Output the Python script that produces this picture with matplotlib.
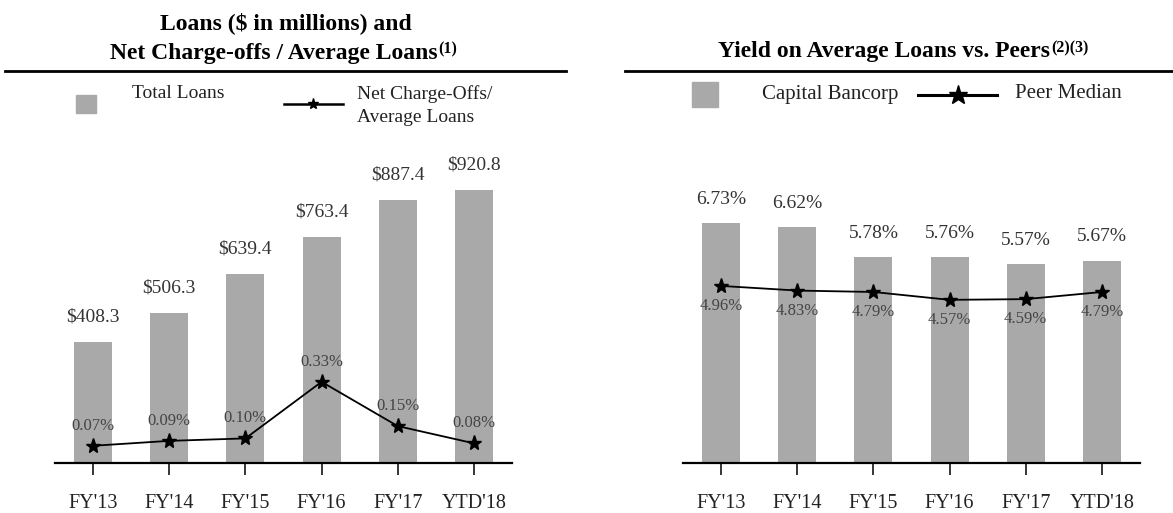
import matplotlib
matplotlib.use('Agg')
import matplotlib.pyplot as plt
from matplotlib.lines import Line2D
from matplotlib.patches import Rectangle

categories = ["FY'13", "FY'14", "FY'15", "FY'16", "FY'17", "YTD'18"]
total_loans = [408.3, 506.3, 639.4, 763.4, 887.4, 920.8]
nco_ratio = [0.07, 0.09, 0.10, 0.33, 0.15, 0.08]
loan_yield = [6.73, 6.62, 5.78, 5.76, 5.57, 5.67]
peer_median = [4.96, 4.83, 4.79, 4.57, 4.59, 4.79]

plt.rcParams['font.family'] = ['Liberation Serif', 'DejaVu Serif']
GRAY = '#a9a9a9'
TXT = '#333333'
W, H = 1173, 513
fig = plt.figure(figsize=(11.73, 5.13), dpi=100)


def fx(px):
    return px / W


def fy(py):
    return 1 - py / H


axL = fig.add_axes([fx(55), fy(463), fx(457), (463 - 170) / H])
axR = fig.add_axes([fx(683), fy(463), fx(457), (463 - 170) / H])
x = list(range(len(categories)))


def style(ax):
    for s in ['top', 'left', 'right']:
        ax.spines[s].set_visible(False)
    ax.spines['bottom'].set_linewidth(1.6)
    ax.spines['bottom'].set_zorder(5)
    ax.set_xlim(-0.5, 5.5)
    ax.set_xticks(x)
    ax.set_xticklabels(categories)
    ax.tick_params(axis='x', length=8.5, width=1.1, pad=13.5, labelsize=14.5,
                   labelcolor='#222222', direction='out')
    ax.set_yticks([])


# Left panel
style(axL)
axL.bar(x, total_loans, 0.5, color=GRAY, zorder=2)
axL.set_ylim(0, 989)
for i, v in enumerate(total_loans):
    axL.annotate(f"${v:.1f}", (i, v), xytext=(0, 18), textcoords='offset points',
                 ha='center', va='center', fontsize=14, color=TXT)
axL2 = axL.twinx()
for s in axL2.spines.values():
    s.set_visible(False)
axL2.set_yticks([])
axL2.set_ylim(0, 1.191)
axL2.plot(x, nco_ratio, color='black', lw=1.3, marker='*', ms=11, zorder=4)
for i, v in enumerate(nco_ratio):
    axL2.annotate(f"{v:.2f}%", (i, v), xytext=(0, 14.5), textcoords='offset points',
                  ha='center', va='center', fontsize=12, color='#444444')

# Right panel
style(axR)
axR.bar(x, loan_yield, 0.5, color=GRAY, zorder=2)
axR.set_ylim(0, 8.207)
for i, v in enumerate(loan_yield):
    axR.annotate(f"{v:.2f}%", (i, v), xytext=(0, 17), textcoords='offset points',
                 ha='center', va='center', fontsize=14, color=TXT)
axR.plot(x, peer_median, color='black', lw=1.3, marker='*', ms=11, zorder=4)
for i, v in enumerate(peer_median):
    axR.annotate(f"{v:.2f}%", (i, v), xytext=(0, -14.5), textcoords='offset points',
                 ha='center', va='center', fontsize=12, color='#444444')

# Legends
fig.patches.append(Rectangle((fx(76), fy(113)), fx(20), 18 / H, transform=fig.transFigure,
                             color=GRAY))
fig.text(fx(132), fy(94), "Total Loans", fontsize=14, va='center', ha='left', color='#222222')
fig.lines.append(Line2D([fx(284), fx(343)], [fy(104), fy(104)], lw=1.8, color='black',
                        transform=fig.transFigure))
fig.lines.append(Line2D([fx(313)], [fy(104)], marker='*', ms=8, color='black',
                        transform=fig.transFigure))
fig.text(fx(357), fy(94), "Net Charge-Offs/", fontsize=14, va='center', ha='left', color='#222222')
fig.text(fx(357), fy(117), "Average Loans", fontsize=14, va='center', ha='left', color='#222222')

fig.patches.append(Rectangle((fx(692), fy(107)), fx(26), 25 / H, transform=fig.transFigure,
                             color=GRAY))
fig.text(fx(762), fy(94), "Capital Bancorp", fontsize=15, va='center', ha='left', color='#222222')
fig.lines.append(Line2D([fx(918), fx(997)], [fy(95), fy(95)], lw=2.2, color='black',
                        transform=fig.transFigure))
fig.lines.append(Line2D([fx(958)], [fy(95)], marker='*', ms=14, color='black',
                        transform=fig.transFigure))
fig.text(fx(1015), fy(94), "Peer Median", fontsize=15, va='center', ha='left', color='#222222')

# Titles
fig.text(fx(286), fy(23), "Loans ($ in millions) and", fontsize=17, fontweight='bold',
         ha='center', va='center')
t2 = fig.text(fx(110), fy(53), "Net Charge-offs / Average Loans", fontsize=17,
              fontweight='bold', ha='left', va='center')
t3 = fig.text(fx(718), fy(52), "Yield on Average Loans vs. Peers", fontsize=17,
              fontweight='bold', ha='left', va='center')
fig.canvas.draw()
r = fig.canvas.get_renderer()
e2 = t2.get_window_extent(r)
e3 = t3.get_window_extent(r)
fig.text(e2.x1 / W + fx(1), fy(49), "(1)", fontsize=11.5, fontweight='bold', ha='left', va='center')
fig.text(e3.x1 / W + fx(1), fy(48), "(2)(3)", fontsize=11.5, fontweight='bold', ha='left', va='center')

fig.lines.append(Line2D([fx(5), fx(566)], [fy(71), fy(71)], lw=2.0, color='black',
                        transform=fig.transFigure))
fig.lines.append(Line2D([fx(625), fx(1173)], [fy(71), fy(71)], lw=2.0, color='black',
                        transform=fig.transFigure))

fig.savefig('out.png', dpi=100)
